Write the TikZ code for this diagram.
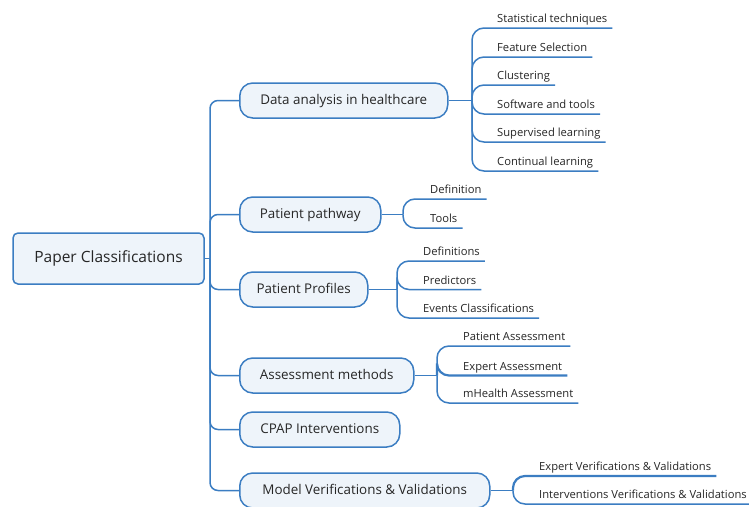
\documentclass[tikz,border=0pt]{standalone}
\usepackage{fontspec}
\setmainfont{Open Sans}
\definecolor{mblue}{HTML}{3B7DC2}
\definecolor{mfill}{HTML}{EEF4FA}
\definecolor{mtext}{HTML}{262626}
\begin{document}
\begin{tikzpicture}[x=1pt,y=-1pt,
  rootbox/.style={draw=mblue, fill=mfill, line width=1.5pt, rounded corners=5pt, minimum width=191pt, minimum height=51pt, inner sep=0pt, text height=0.96em, text depth=0.12em, font=\fontsize{15.5}{18}\selectfont, text=mtext},
  branch/.style={draw=mblue, fill=mfill, line width=1.5pt, rounded corners=13pt, minimum height=35pt, inner sep=0pt, text height=0.96em, text depth=0.12em, font=\fontsize{13.4}{16}\selectfont, text=mtext, anchor=west},
  leaf/.style={anchor=base west, inner sep=0pt, font=\fontsize{11.2}{13}\selectfont, text=mtext},
  conn/.style={draw=mblue, line width=1.5pt, rounded corners=8pt},
  uline/.style={draw=mblue, line width=1.5pt, rounded corners=12pt},
  thick uline/.style={uline, line width=2.2pt}
]
\useasboundingbox (0,0) rectangle (749,506);

% root and branches
\node[rootbox] (root) at (108.5,258.5) {Paper Classifications};
\node[branch, minimum width=208pt] (b1) at (239,100.5) {Data analysis in healthcare};
\node[branch, minimum width=141pt] (b2) at (239,214.5) {Patient pathway};
\node[branch, minimum width=128pt] (b3) at (239,289.5) {Patient Profiles};
\node[branch, minimum width=174pt] (b4) at (239,375.5) {Assessment methods};
\node[branch, minimum width=160pt] (b5) at (239,429.5) {CPAP Interventions};
\node[branch, minimum width=250pt] (b6) at (239,490.5) {Model Verifications \& Validations};

\coordinate (t) at (210,258.5);
\draw[conn] (root.east) -- (t);
\foreach \b in {b1,b2,b3,b4,b5,b6} \draw[conn] (t) |- (\b.west);

% junctions
\coordinate (j1) at (472,100.5);
\coordinate (j2) at (403,214.5);
\coordinate (j3) at (397,289.5);
\coordinate (j4) at (437,375.5);
\coordinate (j6) at (513,490.5);
\draw[conn] (b1.east) -- (j1);
\draw[conn] (b2.east) -- (j2);
\draw[conn] (b3.east) -- (j3);
\draw[conn] (b4.east) -- (j4);
\draw[conn] (b6.east) -- (j6);

% leaves of b1
\node[leaf] (l11) at (497,22.5) {Statistical techniques};
\node[leaf] (l12) at (497,51.5) {Feature Selection};
\node[leaf] (l13) at (497,79.5) {Clustering};
\node[leaf] (l14) at (497,108.5) {Software and tools};
\node[leaf] (l15) at (497,136.5) {Supervised learning};
\node[leaf] (l16) at (497,165.5) {Continual learning};
\foreach \l in {l11,l12,l13,l14,l15,l16}
  \draw[uline] (j1) |- ([yshift=-5.5pt]\l.base west) -- ([yshift=-5.5pt,xshift=5pt]\l.base east);

% leaves of b2
\node[leaf] (l21) at (430,193.5) {Definition};
\node[leaf] (l22) at (430,222.5) {Tools};
\foreach \l in {l21,l22}
  \draw[uline] (j2) |- ([yshift=-5.5pt]\l.base west) -- ([yshift=-5.5pt,xshift=5pt]\l.base east);

% leaves of b3
\node[leaf] (l31) at (423,255.5) {Definitions};
\node[leaf] (l32) at (423,284) {Predictors};
\node[leaf] (l33) at (423,312.5) {Events Classifications};
\foreach \l in {l31,l32,l33}
  \draw[uline] (j3) |- ([yshift=-5.5pt]\l.base west) -- ([yshift=-5.5pt,xshift=5pt]\l.base east);

% leaves of b4
\node[leaf] (l41) at (463,340.5) {Patient Assessment};
\node[leaf] (l42) at (463,370) {Expert Assessment};
\node[leaf] (l43) at (463,397.5) {mHealth Assessment};
\foreach \l in {l41,l43}
  \draw[uline] (j4) |- ([yshift=-5.5pt]\l.base west) -- ([yshift=-5.5pt,xshift=5pt]\l.base east);
\draw[thick uline] (j4) |- ([yshift=-5.5pt]l42.base west) -- ([yshift=-5.5pt,xshift=5pt]l42.base east);

% leaves of b6
\node[leaf] (l61) at (539,470.5) {Expert Verifications \& Validations};
\node[leaf] (l62) at (539,498.5) {Interventions Verifications \& Validations};
\draw[thick uline] (j6) |- ([yshift=-5.5pt]l61.base west) -- ([yshift=-5.5pt,xshift=5pt]l61.base east);
\draw[uline] (j6) |- ([yshift=-5.5pt]l62.base west) -- ([yshift=-5.5pt,xshift=5pt]l62.base east);
\end{tikzpicture}
\end{document}
